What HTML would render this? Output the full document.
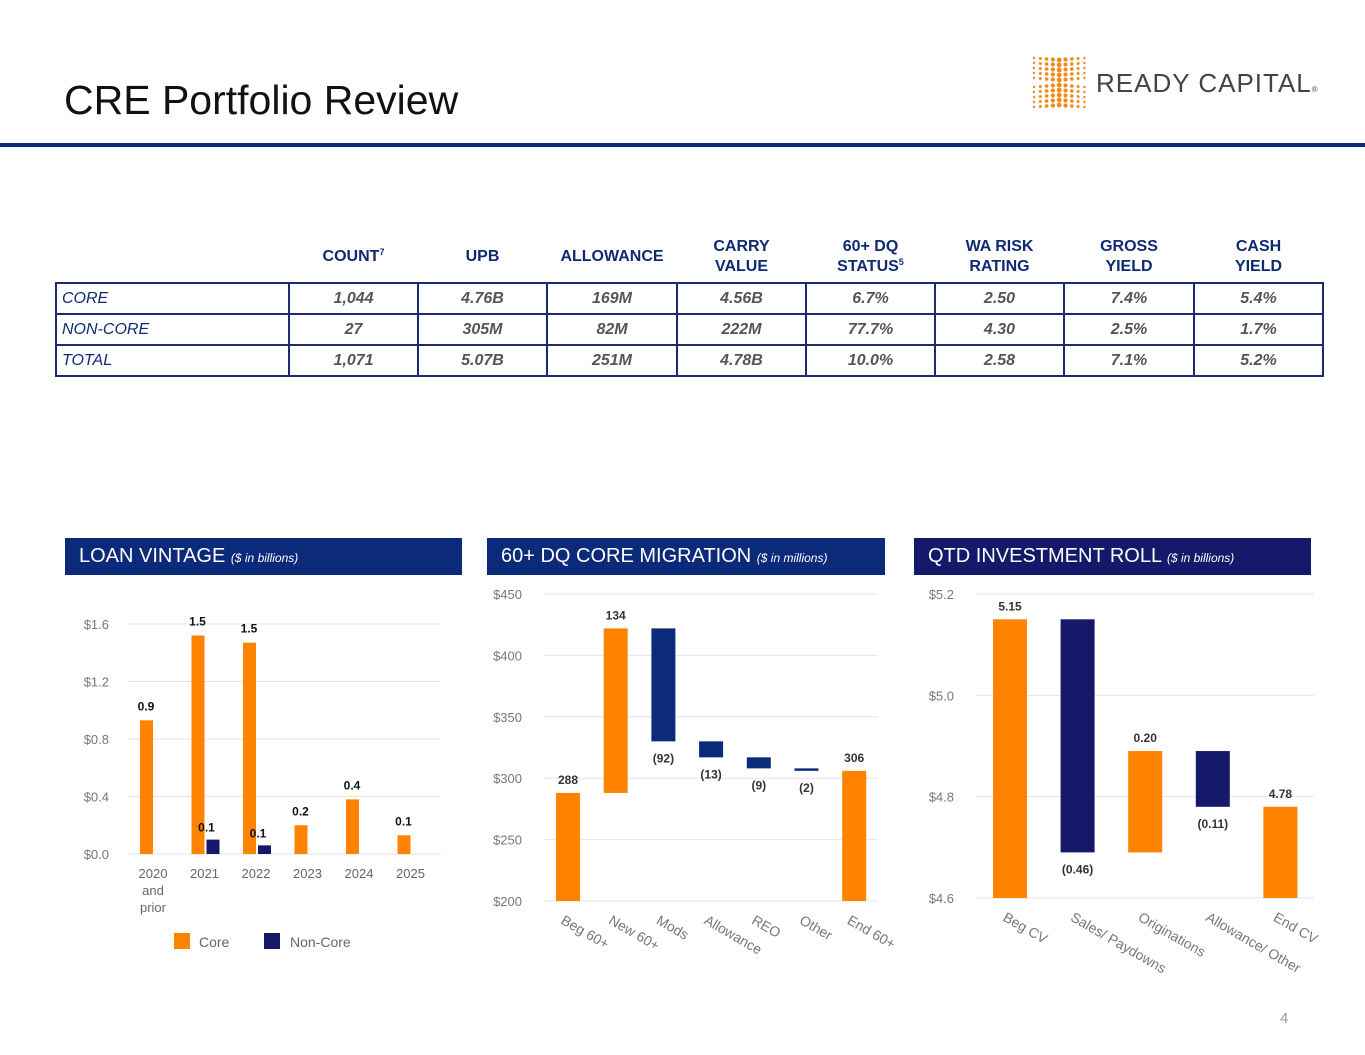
<!DOCTYPE html>
<html><head><meta charset="utf-8"><style>
body{margin:0;width:1365px;height:1055px;background:#fff;font-family:"Liberation Sans",Arial,sans-serif;position:relative;overflow:hidden}
.abs{position:absolute}
table{position:absolute;left:55px;top:232px;border-collapse:collapse}
th{color:#0d2a73;font-size:16px;font-weight:bold;height:50px;text-align:center;vertical-align:middle;line-height:20px;padding:0}
th sup{font-size:9px;line-height:0;vertical-align:6px}
td{border:2px solid #1f2a6e;height:29px;font-size:16px;font-style:italic;font-weight:bold;color:#555;text-align:center;padding:0}
td.l{text-align:left;color:#0d2a73;font-weight:normal;padding-left:5px}
.hdr{position:absolute;top:538px;height:37px;color:#fff;font-size:20px;line-height:37px;padding-left:14px;box-sizing:border-box}
.hdr i{font-size:12px}
</style></head><body>
<div class="abs" style="left:64px;top:77px;font-size:41px;color:#111">CRE Portfolio Review</div>
<div class="abs" style="left:1030px;top:56px;width:290px;height:52px">
<svg width="60" height="52">
<g fill="#f08a1c" id="dots"></g></svg>
<span style="position:absolute;left:66px;top:12px;font-size:26px;color:#444;letter-spacing:1px">READY CAPITAL<span style="font-size:8px">®</span></span>
</div>
<div class="abs" style="left:0;top:143px;width:1365px;height:4px;background:#0d2a73"></div>

<table>
<tr><th style="width:233px"></th><th style="width:129px">COUNT<sup>7</sup></th><th style="width:129px">UPB</th><th style="width:130px">ALLOWANCE</th><th style="width:129px">CARRY<br>VALUE</th><th style="width:129px">60+ DQ<br>STATUS<sup>5</sup></th><th style="width:129px">WA RISK<br>RATING</th><th style="width:130px">GROSS<br>YIELD</th><th style="width:129px">CASH<br>YIELD</th></tr>
<tr><td class="l">CORE</td><td>1,044</td><td>4.76B</td><td>169M</td><td>4.56B</td><td>6.7%</td><td>2.50</td><td>7.4%</td><td>5.4%</td></tr>
<tr><td class="l">NON-CORE</td><td>27</td><td>305M</td><td>82M</td><td>222M</td><td>77.7%</td><td>4.30</td><td>2.5%</td><td>1.7%</td></tr>
<tr><td class="l">TOTAL</td><td>1,071</td><td>5.07B</td><td>251M</td><td>4.78B</td><td>10.0%</td><td>2.58</td><td>7.1%</td><td>5.2%</td></tr>
</table>

<div class="hdr" style="left:65px;width:397px;background:#0c2a7a">LOAN VINTAGE <i>($ in billions)</i></div>
<div class="hdr" style="left:487px;width:398px;background:#0c2a7a">60+ DQ CORE MIGRATION <i>($ in millions)</i></div>
<div class="hdr" style="left:914px;width:397px;background:#15196a">QTD INVESTMENT ROLL <i>($ in billions)</i></div>

<svg id="charts" class="abs" style="left:0;top:0" width="1365" height="1055" font-family="Liberation Sans, Arial, sans-serif"></svg>
<div class="abs" style="left:1280px;top:1010px;font-size:15px;color:#999">4</div>

<script>
// Loan vintage data
const vintCats=["2020|and|prior","2021","2022","2023","2024","2025"];
const vintCore=[0.93,1.52,1.47,0.20,0.38,0.13];
const vintNon=[0,0.10,0.06,0,0,0];
const vintCoreLbl=["0.9","1.5","1.5","0.2","0.4","0.1"];
const vintNonLbl=["","0.1","0.1","","",""];
const vintTicks=[0,0.4,0.8,1.2,1.6];
// DQ migration data
const dqCats=["Beg 60+","New 60+","Mods","Allowance","REO","Other","End 60+"];
const dqVals=[288,134,-92,-13,-9,-2,306];
const dqTotal=[true,false,false,false,false,false,true];
const dqLbl=["288","134","(92)","(13)","(9)","(2)","306"];
const dqTicks=[200,250,300,350,400,450];
// Investment roll data
const irCats=["Beg CV","Sales/ Paydowns","Originations","Allowance/ Other","End CV"];
const irVals=[5.15,-0.46,0.20,-0.11,4.78];
const irTotal=[true,false,false,false,true];
const irLbl=["5.15","(0.46)","0.20","(0.11)","4.78"];
const irTicks=[4.6,4.8,5.0,5.2];

const NS="http://www.w3.org/2000/svg";
const svg=document.getElementById('charts');
const OR="#ff8200",NV="#0c2a7a",NV2="#15196a";
function mk(t,a,txt,parent){const e=document.createElementNS(NS,t);for(const k in a)e.setAttribute(k,a[k]);if(txt!==undefined)e.textContent=txt;(parent||svg).appendChild(e);return e;}

// logo dots
(function(){const g=document.getElementById('dots');for(let c=0;c<9;c++)for(let r=0;r<10;r++){const x=4+c*6.3,y=4+r*5;const d=Math.abs(c-4)/4;mk('circle',{cx:x,cy:y+(r<5?-1:1)*d*2,r:1.2+1.2*(1-d)},undefined,g);}})();

// Chart 1
(function(){
 const y=v=>854-v*143.75, x0=128,x1=441, cx=i=>153+i*51.5;
 vintTicks.forEach(t=>{mk('line',{x1:x0,x2:x1,y1:y(t),y2:y(t),stroke:'#e6e6e6','stroke-width':1});
  const e=mk('text',{x:109,y:y(t)+5,'text-anchor':'end','font-size':13,fill:'#777'},'$'+t.toFixed(1));
  });
 vintCats.forEach((c,i)=>{
  const b=mk('rect',{x:cx(i)-13,y:y(vintCore[i]),width:13,height:y(0)-y(vintCore[i]),fill:OR});
  
  mk('text',{x:cx(i)-7,y:y(vintCore[i])-10,'text-anchor':'middle','font-size':12,'font-weight':'bold',fill:'#111'},vintCoreLbl[i]);
  if(vintNon[i]>0){const n=mk('rect',{x:cx(i)+2,y:y(vintNon[i]),width:13,height:y(0)-y(vintNon[i]),fill:NV2});
   
   mk('text',{x:cx(i)+2,y:y(vintNon[i])-8,'text-anchor':'middle','font-size':12,'font-weight':'bold',fill:'#111'},vintNonLbl[i]);}
  c.split('|').forEach((s,k)=>{const t=mk('text',{x:cx(i),y:878+k*17,'text-anchor':'middle','font-size':13,fill:'#666'},s);
   });
 });
 mk('rect',{x:174,y:933,width:16,height:16,fill:OR});mk('text',{x:199,y:947,'font-size':14,fill:'#666'},'Core');
 mk('rect',{x:264,y:933,width:16,height:16,fill:NV2});mk('text',{x:290,y:947,'font-size':14,fill:'#666'},'Non-Core');
})();

function waterfall(cats,vals,tot,lbls,ticks,y,cx,bw,x0,x1,fmt,pre,navy){
 ticks.forEach(t=>{mk('line',{x1:x0,x2:x1,y1:y(t),y2:y(t),stroke:'#e6e6e6','stroke-width':1});
  const e=mk('text',{x:x0-22,y:y(t)+5,'text-anchor':'end','font-size':13,fill:'#777'},'$'+fmt(t));
  });
 let run=0;
 cats.forEach((c,i)=>{
  let a,b,col;
  if(tot[i]){a=ticks[0];b=vals[i];run=vals[i];col=OR;}
  else{a=run;b=run+vals[i];run=b;col=vals[i]>=0?OR:navy;}
  const top=Math.max(a,b),bot=Math.min(a,b);
  const r=mk('rect',{x:cx(i)-bw/2,y:y(top),width:bw,height:Math.max(2,y(bot)-y(top)),fill:col});
  
  const neg=!tot[i]&&vals[i]<0;
  mk('text',{x:cx(i),y:neg?y(bot)+21:y(top)-9,'text-anchor':'middle','font-size':12,'font-weight':'bold',fill:'#333'},lbls[i]);
  const t=mk('text',{x:cx(i)-8,y:y(ticks[0])+22,'font-size':14,fill:'#777',transform:`rotate(30 ${cx(i)-8} ${y(ticks[0])+22})`},c);
  
 });
}
waterfall(dqCats,dqVals,dqTotal,dqLbl,dqTicks,v=>901-(v-200)*1.228,i=>568+i*47.7,24,544,878,t=>t,'dq',NV);
waterfall(irCats,irVals,irTotal,irLbl,irTicks,v=>898-(v-4.6)*506.7,i=>1010+i*67.6,34,976,1314,t=>t.toFixed(1),'roll',NV2);
</script>
</body></html>
